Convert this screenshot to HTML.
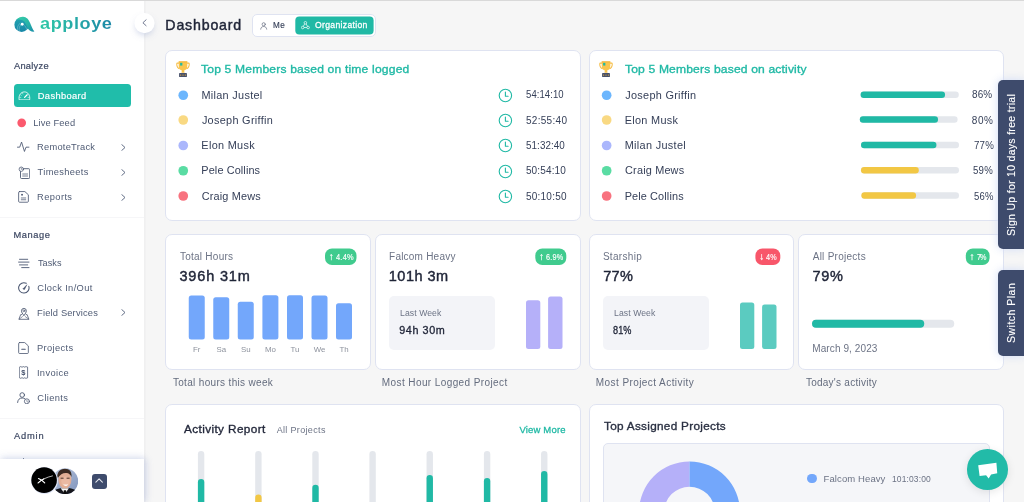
<!DOCTYPE html>
<html lang="en">
<head>
<meta charset="utf-8">
<title>Apploye Dashboard</title>
<style>
*{box-sizing:border-box;margin:0;padding:0}
html,body{width:1024px;height:502px;overflow:hidden}
body{position:relative;background:#f6f6f6;font-family:"Liberation Sans",sans-serif;color:#2f3b52}
#root{position:absolute;left:0;top:0;width:1024px;height:502px;overflow:hidden;will-change:transform}
.abs{position:absolute}
.t{position:absolute;white-space:nowrap;line-height:1}
#topline{left:0;top:0;width:1024px;height:1px;background:#d9d9d9}
/* sidebar */
#side{left:0;top:1px;width:145px;height:501px;background:#fff}
.sec{font-size:9.5px;color:#2f3b52;left:14px;letter-spacing:.2px}
.mi{font-size:9.5px;color:#4a5872;left:37px;letter-spacing:.25px}
.ico{position:absolute;left:17px;width:14px;height:14px}
.ico svg{display:block;width:14px;height:14px;fill:none;stroke:#3d4a66;stroke-width:1.1;stroke-linecap:round;stroke-linejoin:round}
.chev{position:absolute;left:120px;width:6px;height:8px}
.chev svg{display:block;fill:none;stroke:#4a5872;stroke-width:1;stroke-linecap:round;stroke-linejoin:round}
.sep{left:0;width:145px;height:1px;background:#f3f3f5}
/* cards */
.card{position:absolute;background:#fff;border:1px solid #dfe3f1;border-radius:7px}
.dot{position:absolute;width:9.8px;height:9.8px;border-radius:50%}
.nm{font-size:11px;color:#2f3b52;letter-spacing:.15px}
.tm{font-size:10.5px;color:#2f3b52}
.ttl{font-size:11.5px;color:#20b9a5;font-weight:bold}
.track{position:absolute;height:6.4px;border-radius:3.2px;background:#e4e7ec}
.fill{position:absolute;left:0;top:0;height:6.4px;border-radius:3.2px}
.pc{font-size:10.5px;color:#2f3b52}
.lab{font-size:9.5px;color:#6c7385;letter-spacing:.15px}
.big{font-size:15px;color:#1f2437;font-weight:bold}
.badge{position:absolute;height:15px;border-radius:5px;color:#fff;font-size:7.5px;font-weight:bold;text-align:center;line-height:15px;white-space:nowrap}
.cap{font-size:9.5px;color:#5d6577;letter-spacing:.2px}
.lw{position:absolute;background:#f3f4f8;border-radius:5px}
.bar{position:absolute;border-radius:2px}
.dl{font-size:7.9px;color:#8d929d}
.tab{position:absolute;left:998px;width:27px;background:#3e4b6c;border-radius:5px 0 0 5px;box-shadow:0 0 9px rgba(205,217,245,.9)}
.tab span{position:absolute;left:50%;top:50%;white-space:nowrap;color:#fff;font-size:10.5px;font-weight:bold;transform:translate(-50%,-50%) rotate(-90deg);letter-spacing:.1px}
</style>
</head>
<body>
<div id="root">
<div class="abs" style="left:252px;top:14px;width:124px;height:23px;background:#fff;border:1px solid #dfe3f1;border-radius:5px"></div>
<div class="card" style="left:165px;top:50px;width:416px;height:171px;"></div>
<div class="card" style="left:589px;top:50px;width:415px;height:171px;"></div>
<div class="card" style="left:165px;top:234px;width:205.5px;height:135.5px;"></div>
<div class="card" style="left:375px;top:234px;width:206px;height:135.5px;"></div>
<div class="card" style="left:589px;top:234px;width:205px;height:135.5px;"></div>
<div class="card" style="left:798px;top:234px;width:206px;height:135.5px;"></div>
<div class="lw" style="left:388.75px;top:296px;width:106.25px;height:53.75px;"></div>
<div class="lw" style="left:602.75px;top:296px;width:106.25px;height:53.75px;"></div>
<div class="card" style="left:165px;top:404px;width:416px;height:120px;"></div>
<div class="card" style="left:589px;top:404px;width:415px;height:120px;"></div>
<div class="abs" style="left:602.75px;top:443.25px;width:387px;height:80px;background:#f5f6f9;border:1px solid #dfe3f1;border-radius:5px"></div>
<svg class="abs" style="left:0;top:0" width="1024" height="502" viewBox="0 0 1024 502"><rect x="295.3" y="16.6" width="78.3" height="17.8" rx="4" fill="#20b9a5"/><circle cx="183.25" cy="95.25" r="4.85" fill="#6cb6fd"/><circle cx="183.25" cy="120" r="4.85" fill="#f9d983"/><circle cx="183.25" cy="145.5" r="4.85" fill="#abb7fc"/><circle cx="183.25" cy="170.75" r="4.85" fill="#5adca3"/><circle cx="183.25" cy="196" r="4.85" fill="#f8727f"/><circle cx="606.65" cy="95.25" r="4.85" fill="#6cb6fd"/><rect x="860.6" y="91.55" width="98.2" height="6.4" rx="3.2" fill="#e4e7ec"/><rect x="860.6" y="91.55" width="84.45" height="6.4" rx="3.2" fill="#20b9a5"/><circle cx="606.65" cy="120" r="4.85" fill="#f9d983"/><rect x="859.8" y="116.3" width="97.8" height="6.4" rx="3.2" fill="#e4e7ec"/><rect x="859.8" y="116.3" width="78.24" height="6.4" rx="3.2" fill="#20b9a5"/><circle cx="606.65" cy="145.5" r="4.85" fill="#abb7fc"/><rect x="861" y="141.8" width="98" height="6.4" rx="3.2" fill="#e4e7ec"/><rect x="861" y="141.8" width="75.46" height="6.4" rx="3.2" fill="#20b9a5"/><circle cx="606.65" cy="170.75" r="4.85" fill="#5adca3"/><rect x="861" y="167.05" width="98" height="6.4" rx="3.2" fill="#e4e7ec"/><rect x="861" y="167.05" width="57.82" height="6.4" rx="3.2" fill="#f2c744"/><circle cx="606.65" cy="196" r="4.85" fill="#f8727f"/><rect x="861.4" y="192.3" width="97.6" height="6.4" rx="3.2" fill="#e4e7ec"/><rect x="861.4" y="192.3" width="54.66" height="6.4" rx="3.2" fill="#f2c744"/><rect x="325" y="248.4" width="31.5" height="16.6" rx="7" fill="#40cb8e"/><rect x="188.75" y="295.5" width="16" height="44.1" rx="2.5" fill="#73a7fb"/><rect x="213.25" y="297.25" width="16" height="42.35" rx="2.5" fill="#73a7fb"/><rect x="237.75" y="301.75" width="16" height="37.85" rx="2.5" fill="#73a7fb"/><rect x="262.4" y="295.25" width="16" height="44.35" rx="2.5" fill="#73a7fb"/><rect x="287" y="295.25" width="16" height="44.35" rx="2.5" fill="#73a7fb"/><rect x="311.5" y="295.5" width="16" height="44.1" rx="2.5" fill="#73a7fb"/><rect x="336" y="303.25" width="16" height="36.35" rx="2.5" fill="#73a7fb"/><rect x="535.3" y="248.4" width="31" height="16.6" rx="7" fill="#40cb8e"/><rect x="526" y="300.25" width="14.3" height="48.8" rx="2.5" fill="#b5b0f9"/><rect x="548.1" y="296.5" width="14.4" height="52.5" rx="2.5" fill="#b5b0f9"/><rect x="755.4" y="248.4" width="24.9" height="16.6" rx="7" fill="#f8566a"/><rect x="740" y="302.5" width="14.3" height="46.5" rx="2.5" fill="#5bcbc0"/><rect x="762.1" y="304.5" width="14.4" height="44.5" rx="2.5" fill="#5bcbc0"/><rect x="965.8" y="248.4" width="23.8" height="16.6" rx="7" fill="#40cb8e"/><rect x="812" y="319.75" width="142.25" height="8" rx="4" fill="#e4e7ec"/><rect x="812" y="319.75" width="112.25" height="8" rx="4" fill="#20b9a5"/><rect x="197.9" y="451" width="6.4" height="60" rx="3.2" fill="#e4e7ec"/><rect x="197.9" y="479" width="6.4" height="40" rx="3.2" fill="#20b9a5"/><rect x="255.2" y="451" width="6.4" height="60" rx="3.2" fill="#e4e7ec"/><rect x="255.2" y="494.5" width="6.4" height="40" rx="3.2" fill="#f2c744"/><rect x="312.3" y="451" width="6.4" height="60" rx="3.2" fill="#e4e7ec"/><rect x="312.3" y="484.75" width="6.4" height="40" rx="3.2" fill="#20b9a5"/><rect x="369.4" y="451" width="6.4" height="60" rx="3.2" fill="#e4e7ec"/><rect x="426.55" y="451" width="6.4" height="60" rx="3.2" fill="#e4e7ec"/><rect x="426.55" y="475" width="6.4" height="40" rx="3.2" fill="#20b9a5"/><rect x="483.9" y="451" width="6.4" height="60" rx="3.2" fill="#e4e7ec"/><rect x="483.9" y="478" width="6.4" height="40" rx="3.2" fill="#20b9a5"/><rect x="541.05" y="451" width="6.4" height="60" rx="3.2" fill="#e4e7ec"/><rect x="541.05" y="471" width="6.4" height="40" rx="3.2" fill="#20b9a5"/></svg>
<div class="t" style="left:165.36px;top:18.10px;font-size:14.2px;color:#1f2437;-webkit-text-stroke:0.43px #1f2437;letter-spacing:0.81px;">Dashboard</div>
<svg class="abs" style="left:260px;top:21.5px" width="8" height="8" viewBox="0 0 8 8" fill="none" stroke="#6c7385" stroke-width=".75" stroke-linecap="round"><circle cx="3.7" cy="2.3" r="1.6"/><path d="M.7 7.2C.9 5.3 2.1 4.5 3.7 4.5S6.5 5.3 6.7 7.2"/></svg>
<div class="t" style="left:273.42px;top:21.15px;font-size:8.6px;color:#364059;-webkit-text-stroke:0.15px #364059;letter-spacing:0.48px;transform:scaleX(0.945);transform-origin:0 0;">Me</div>
<svg class="abs" style="left:301px;top:21.3px" width="9" height="8.5" viewBox="0 0 9 8.5" fill="none" stroke="#fff" stroke-width=".7"><circle cx="4.4" cy="1.8" r="1.3"/><circle cx="1.7" cy="6.5" r="1.3"/><circle cx="7.1" cy="6.5" r="1.3"/><path d="M3.7 2.9L2.3 5.3M5.1 2.9l1.4 2.4M3 6.5h2.8"/></svg>
<div class="t" style="left:315.09px;top:21.15px;font-size:8.6px;color:#fff;-webkit-text-stroke:0.26px #fff;letter-spacing:0.32px;">Organization</div>
<svg class="abs" style="left:175.6px;top:60.6px" width="14" height="16.600" viewBox="0 0 15 17" preserveAspectRatio="none"><path d="M3.2 2.2H1.6c-.5 0-.8.3-.8.8 0 2.6 1.2 4.4 3.2 4.9M11.8 2.2h1.6c.5 0 .8.3.8.8 0 2.6-1.2 4.4-3.2 4.9" fill="none" stroke="#f6bd45" stroke-width="1.1"/><path d="M2.9.4h9.2v4.8c0 2.6-1.5 4.2-3.4 4.6l.5 2.3H5.8l.5-2.3C4.400 9.400 2.900 7.800 2.900 5.200z" fill="#f9c54e"/><rect x="2.9" y=".4" width="9.200" height="1" fill="#f0b23a"/><rect x="4.4" y="1.9" width="2.4" height="2.8" fill="#20b9a5"/><rect x="3.3" y="12.3" width="8.400" height="4.100" rx=".4" fill="#47516b"/><path d="M5 14.400h.01M7.500 14.400h.01M10 14.400h.01" stroke="#f0b23a" stroke-width="1.300" stroke-linecap="round"/></svg>
<svg class="abs" style="left:599.2px;top:60.6px" width="14" height="16.600" viewBox="0 0 15 17" preserveAspectRatio="none"><path d="M3.2 2.2H1.6c-.5 0-.8.3-.8.8 0 2.6 1.2 4.4 3.2 4.9M11.8 2.2h1.6c.5 0 .8.3.8.8 0 2.6-1.2 4.4-3.2 4.9" fill="none" stroke="#f6bd45" stroke-width="1.1"/><path d="M2.9.4h9.2v4.8c0 2.6-1.5 4.2-3.4 4.6l.5 2.3H5.8l.5-2.3C4.400 9.400 2.900 7.800 2.900 5.200z" fill="#f9c54e"/><rect x="2.9" y=".4" width="9.200" height="1" fill="#f0b23a"/><rect x="4.4" y="1.9" width="2.4" height="2.8" fill="#20b9a5"/><rect x="3.3" y="12.3" width="8.400" height="4.100" rx=".4" fill="#47516b"/><path d="M5 14.400h.01M7.500 14.400h.01M10 14.400h.01" stroke="#f0b23a" stroke-width="1.300" stroke-linecap="round"/></svg>
<div class="t" style="left:200.53px;top:64.00px;font-size:11.3px;color:#20b9a5;-webkit-text-stroke:0.34px #20b9a5;letter-spacing:0.17px;transform:scaleX(1.07);transform-origin:0 0;">Top 5 Members based on time logged</div>
<div class="t" style="left:624.63px;top:64.00px;font-size:11.3px;color:#20b9a5;-webkit-text-stroke:0.34px #20b9a5;letter-spacing:0.15px;transform:scaleX(1.07);transform-origin:0 0;">Top 5 Members based on activity</div>
<div class="t" style="left:201.45px;top:89.50px;font-size:10.9px;color:#364059;letter-spacing:0.3px;">Milan Justel</div>
<svg class="abs" style="left:498px;top:88.05px" width="15" height="15" viewBox="0 0 15 15" fill="none" stroke="#20b9a5" stroke-width="1.1" stroke-linecap="round" stroke-linejoin="round"><circle cx="7.4" cy="7.500" r="6.200"/><path d="M7.400 4v4.200h2.700"/></svg>
<div class="t" style="left:525.93px;top:90.40px;font-size:10px;color:#364059;letter-spacing:0.08px;transform:scaleX(0.953);transform-origin:0 0;">54:14:10</div>
<div class="t" style="left:201.89px;top:114.60px;font-size:10.9px;color:#364059;letter-spacing:0.3px;">Joseph Griffin</div>
<svg class="abs" style="left:498px;top:112.8px" width="15" height="15" viewBox="0 0 15 15" fill="none" stroke="#20b9a5" stroke-width="1.1" stroke-linecap="round" stroke-linejoin="round"><circle cx="7.4" cy="7.500" r="6.200"/><path d="M7.400 4v4.200h2.700"/></svg>
<div class="t" style="left:525.93px;top:115.50px;font-size:10px;color:#364059;letter-spacing:0.3px;">52:55:40</div>
<div class="t" style="left:201.33px;top:140.00px;font-size:10.9px;color:#364059;letter-spacing:0.31px;">Elon Musk</div>
<svg class="abs" style="left:498px;top:138.3px" width="15" height="15" viewBox="0 0 15 15" fill="none" stroke="#20b9a5" stroke-width="1.1" stroke-linecap="round" stroke-linejoin="round"><circle cx="7.4" cy="7.500" r="6.200"/><path d="M7.400 4v4.200h2.700"/></svg>
<div class="t" style="left:525.83px;top:140.90px;font-size:10px;color:#364059;letter-spacing:0.07px;transform:scaleX(0.984);transform-origin:0 0;">51:32:40</div>
<div class="t" style="left:201.33px;top:165.40px;font-size:10.9px;color:#364059;letter-spacing:0.11px;">Pele Collins</div>
<svg class="abs" style="left:498px;top:163.55px" width="15" height="15" viewBox="0 0 15 15" fill="none" stroke="#20b9a5" stroke-width="1.1" stroke-linecap="round" stroke-linejoin="round"><circle cx="7.4" cy="7.500" r="6.200"/><path d="M7.400 4v4.200h2.700"/></svg>
<div class="t" style="left:525.93px;top:166.30px;font-size:10px;color:#364059;letter-spacing:0.14px;">50:54:10</div>
<div class="t" style="left:201.68px;top:190.70px;font-size:10.9px;color:#364059;letter-spacing:0.18px;">Craig Mews</div>
<svg class="abs" style="left:498px;top:188.8px" width="15" height="15" viewBox="0 0 15 15" fill="none" stroke="#20b9a5" stroke-width="1.1" stroke-linecap="round" stroke-linejoin="round"><circle cx="7.4" cy="7.500" r="6.200"/><path d="M7.400 4v4.200h2.700"/></svg>
<div class="t" style="left:525.93px;top:191.60px;font-size:10px;color:#364059;letter-spacing:0.24px;">50:10:50</div>
<div class="t" style="left:625.32px;top:89.50px;font-size:10.9px;color:#364059;letter-spacing:0.28px;">Joseph Griffin</div>
<div class="t" style="left:972.49px;top:90.40px;font-size:10px;color:#364059;letter-spacing:0.13px;transform:scaleX(0.994);transform-origin:0 0;">86%</div>
<div class="t" style="left:624.65px;top:114.60px;font-size:10.9px;color:#364059;letter-spacing:0.31px;">Elon Musk</div>
<div class="t" style="left:971.79px;top:115.50px;font-size:10px;color:#364059;letter-spacing:0.61px;">80%</div>
<div class="t" style="left:624.68px;top:140.00px;font-size:10.9px;color:#364059;letter-spacing:0.32px;">Milan Justel</div>
<div class="t" style="left:973.56px;top:140.90px;font-size:10px;color:#364059;letter-spacing:0.18px;transform:scaleX(0.974);transform-origin:0 0;">77%</div>
<div class="t" style="left:625.09px;top:165.40px;font-size:10.9px;color:#364059;letter-spacing:0.17px;">Craig Mews</div>
<div class="t" style="left:973.47px;top:166.30px;font-size:10px;color:#364059;letter-spacing:0.26px;transform:scaleX(0.964);transform-origin:0 0;">59%</div>
<div class="t" style="left:624.65px;top:190.70px;font-size:10.9px;color:#364059;letter-spacing:0.13px;">Pele Collins</div>
<div class="t" style="left:973.51px;top:191.60px;font-size:10px;color:#364059;letter-spacing:0.27px;transform:scaleX(0.949);transform-origin:0 0;">56%</div>
<div class="t" style="left:179.88px;top:252.25px;font-size:10px;color:#6c7385;letter-spacing:0.26px;">Total Hours</div>
<div class="t" style="left:179.48px;top:269.25px;font-size:14.5px;color:#1f2437;-webkit-text-stroke:0.43px #1f2437;letter-spacing:0.83px;">396h 31m</div>
<div class="t" style="left:328.80px;top:252.30px;font-size:10px;color:#fff;-webkit-text-stroke:0.20px #fff;">↑</div>

<div class="t" style="left:335.50px;top:252.70px;font-size:8.6px;color:#fff;-webkit-text-stroke:0.15px #fff;letter-spacing:0.27px;transform:scaleX(0.863);transform-origin:0 0;">4.4%</div>
<div class="t dl" style="left:181.75px;top:345.9px;width:30px;text-align:center">Fr</div>
<div class="t dl" style="left:206.25px;top:345.9px;width:30px;text-align:center">Sa</div>
<div class="t dl" style="left:230.75px;top:345.9px;width:30px;text-align:center">Su</div>
<div class="t dl" style="left:255.39999999999998px;top:345.9px;width:30px;text-align:center">Mo</div>
<div class="t dl" style="left:280px;top:345.9px;width:30px;text-align:center">Tu</div>
<div class="t dl" style="left:304.5px;top:345.9px;width:30px;text-align:center">We</div>
<div class="t dl" style="left:329px;top:345.9px;width:30px;text-align:center">Th</div>
<div class="t" style="left:172.88px;top:378.25px;font-size:10px;color:#646c7e;letter-spacing:0.33px;">Total hours this week</div>
<div class="t" style="left:389.07px;top:252.25px;font-size:10px;color:#6c7385;letter-spacing:0.22px;">Falcom Heavy</div>
<div class="t" style="left:388.83px;top:269.25px;font-size:14.5px;color:#1f2437;-webkit-text-stroke:0.43px #1f2437;letter-spacing:0.48px;">101h 3m</div>
<div class="t" style="left:539.10px;top:252.30px;font-size:10px;color:#fff;-webkit-text-stroke:0.20px #fff;">↑</div>

<div class="t" style="left:545.90px;top:252.70px;font-size:8.6px;color:#fff;-webkit-text-stroke:0.15px #fff;letter-spacing:0.28px;transform:scaleX(0.847);transform-origin:0 0;">6.9%</div>
<div class="t" style="left:399.51px;top:309.25px;font-size:8.8px;color:#6c7385;letter-spacing:0.07px;transform:scaleX(0.985);transform-origin:0 0;">Last Week</div>
<div class="t" style="left:399.26px;top:325.00px;font-size:10.8px;color:#1f2437;-webkit-text-stroke:0.32px #1f2437;letter-spacing:0.59px;">94h 30m</div>
<div class="t" style="left:381.86px;top:378.25px;font-size:10px;color:#646c7e;letter-spacing:0.4px;">Most Hour Logged Project</div>
<div class="t" style="left:602.88px;top:252.25px;font-size:10px;color:#6c7385;letter-spacing:0.33px;">Starship</div>
<div class="t" style="left:603.19px;top:269.25px;font-size:14.5px;color:#1f2437;-webkit-text-stroke:0.43px #1f2437;letter-spacing:0.29px;">77%</div>
<div class="t" style="left:759.20px;top:252.30px;font-size:10px;color:#fff;-webkit-text-stroke:0.20px #fff;">↓</div>

<div class="t" style="left:765.90px;top:252.70px;font-size:8.6px;color:#fff;-webkit-text-stroke:0.15px #fff;letter-spacing:0.2px;transform:scaleX(0.84);transform-origin:0 0;">4%</div>
<div class="t" style="left:613.51px;top:309.25px;font-size:8.8px;color:#6c7385;letter-spacing:0.07px;transform:scaleX(0.985);transform-origin:0 0;">Last Week</div>
<div class="t" style="left:613.31px;top:325.00px;font-size:10.8px;color:#1f2437;-webkit-text-stroke:0.32px #1f2437;letter-spacing:0.06px;transform:scaleX(0.846);transform-origin:0 0;">81%</div>
<div class="t" style="left:595.86px;top:378.25px;font-size:10px;color:#646c7e;letter-spacing:0.42px;">Most Project Activity</div>
<div class="t" style="left:812.69px;top:252.25px;font-size:10px;color:#6c7385;letter-spacing:0.27px;">All Projects</div>
<div class="t" style="left:812.50px;top:269.25px;font-size:14.5px;color:#1f2437;-webkit-text-stroke:0.43px #1f2437;letter-spacing:0.64px;">79%</div>
<div class="t" style="left:969.60px;top:252.30px;font-size:10px;color:#fff;-webkit-text-stroke:0.20px #fff;">↑</div>

<div class="t" style="left:976.80px;top:252.70px;font-size:8.6px;color:#fff;-webkit-text-stroke:0.15px #fff;letter-spacing:-1.11px;transform:scaleX(0.84);transform-origin:0 0;">7%</div>
<div class="t" style="left:812.29px;top:344.00px;font-size:10px;color:#6c7385;letter-spacing:0.1px;">March 9, 2023</div>
<div class="t" style="left:805.88px;top:378.25px;font-size:10px;color:#646c7e;letter-spacing:0.26px;">Today&#x27;s activity</div>
<div class="t" style="left:183.60px;top:424.25px;font-size:11.1px;color:#1f2437;-webkit-text-stroke:0.33px #1f2437;letter-spacing:0.37px;transform:scaleX(1.06);transform-origin:0 0;">Activity Report</div>
<div class="t" style="left:276.63px;top:426.00px;font-size:9px;color:#6c7385;letter-spacing:0.34px;">All Projects</div>
<div class="t" style="left:519.41px;top:424.60px;font-size:9.5px;color:#20b9a5;-webkit-text-stroke:0.28px #20b9a5;letter-spacing:0.18px;">View More</div>
<div class="t" style="left:603.78px;top:420.75px;font-size:11.1px;color:#2a3042;-webkit-text-stroke:0.33px #2a3042;letter-spacing:0.28px;transform:scaleX(1.06);transform-origin:0 0;">Top Assigned Projects</div>
<svg class="abs" style="left:638px;top:460px" width="104" height="60" viewBox="638 460 104 60"><path d="M689.5 461.500A50.500 50.500 0 0 0 639 512h25.200A25.300 25.300 0 0 1 689.500 486.700z" fill="#b5b0f9"/><path d="M689.500 461.500A50.500 50.500 0 0 1 740 512h-25.200A25.300 25.300 0 0 0 689.500 486.700z" fill="#73a7fb"/></svg>
<div class="dot" style="left:807px;top:473.500px;width:9.500px;height:9.500px;background:#73a7fb"></div>
<div class="t" style="left:823.57px;top:473.60px;font-size:9.5px;color:#6c7385;letter-spacing:0.1px;">Falcom Heavy</div>
<div class="t" style="left:892.32px;top:473.60px;font-size:9.5px;color:#6c7385;letter-spacing:0.13px;transform:scaleX(0.894);transform-origin:0 0;">101:03:00</div>
<div class="abs" style="left:0px;top:1px;width:144px;height:501px;background:#fff"></div>
<div class="abs" style="left:144px;top:1px;width:2px;height:501px;background:linear-gradient(90deg,#efeff0,#f3f3f3)"></div>
<svg class="abs" style="left:14px;top:16px" width="21" height="17" viewBox="0 0 21 17"><defs><linearGradient id="lg1" x1="0" y1="0" x2="0" y2="1"><stop offset="0" stop-color="#22a5b0"/><stop offset="1" stop-color="#1787a8"/></linearGradient><linearGradient id="lg2" x1="0" y1="0" x2="1" y2="1"><stop offset="0" stop-color="#38d1a8"/><stop offset=".55" stop-color="#27b3a8"/><stop offset="1" stop-color="#1a8fa9"/></linearGradient></defs><circle cx="7.700" cy="8.700" r="7.300" fill="url(#lg1)"/><path d="M2.300 3.800C4.200 1.500 6.800.600 9.100.700c3.500.200 5.500 2.700 7 6.200 1.300 3 2.400 6.400 4.300 8.700-2.900.300-5.200-.800-6.700-3.300-1.200-2.100-1.900-4.900-3.400-6.700C8.600 3.600 5.300 2.900 2.300 3.800z" fill="url(#lg2)"/><circle cx="8.200" cy="8.200" r="1.450" fill="#fff"/><path d="M3.500 13.500C3.200 11 4 8.700 6 7.300M10.400 9.500c1.200 1.100 1.900 2.400 2.300 3.900M5.300 14.800c-.5-2.200 0-4.200 1.300-5.600" fill="none" stroke="#fff" stroke-width=".45" stroke-linecap="round" opacity=".55"/></svg>
<div class="t" style="left:39.88px;top:16.20px;font-size:16.8px;color:#2ab3a7;font-weight:bold;letter-spacing:0.52px;transform:scaleX(1.08);transform-origin:0 0;background:linear-gradient(90deg,#2fc9a6,#1c88a8);-webkit-background-clip:text;background-clip:text;-webkit-text-fill-color:transparent;color:transparent;padding-bottom:4px;">apploye</div>
<div class="t" style="left:13.99px;top:61.90px;font-size:9.3px;color:#3d4863;letter-spacing:0.25px;-webkit-text-stroke:.2px #3d4863;">Analyze</div>
<div class="abs" style="left:14px;top:84.1px;width:117px;height:23px;background:#20bdaa;border-radius:3.500px"></div>
<svg class="abs" style="left:17.700px;top:90.900px" width="13" height="9.500" viewBox="0 0 13 9.500" fill="none" stroke="#fff" stroke-linecap="round" stroke-linejoin="round"><path d="M1.100 8.500C.400 4.300 2.900.900 6.400.900s6 3.400 5.300 7.600z" stroke-width=".9" stroke-opacity=".92"/><path d="M6.600 6.400l2.600-2.600" stroke-width="1.250"/><path d="M2 6.400h.8M2.700 4l.6.400M4.600 2.400l.3.600M10 6.400h.8" stroke-width=".6" stroke-opacity=".8"/></svg>
<div class="t" style="left:37.74px;top:91.70px;font-size:9.3px;color:#fff;-webkit-text-stroke:0.18px #fff;letter-spacing:0.38px;">Dashboard</div>
<svg class="abs" style="left:16px;top:117px" width="12" height="12" viewBox="16 117 12 12"><circle cx="21.700" cy="122.800" r="4.350" fill="#fb5a6e"/></svg>
<div class="t" style="left:33.15px;top:118.70px;font-size:9.3px;color:#4f5b74;letter-spacing:0.14px;">Live Feed</div>
<svg class="abs" style="left:17.400px;top:140.700px" width="12.600" height="11.500" viewBox="0 0 13 11.500" fill="none" stroke="#4a5670" stroke-width=".88" stroke-linecap="round" stroke-linejoin="round"><path d="M.500 6.200h2.300L4.700.900l3 9.700 1.600-4.400h3"/></svg>
<div class="t" style="left:37.07px;top:143.40px;font-size:9.3px;color:#4f5b74;letter-spacing:0.25px;">RemoteTrack</div>
<svg class="abs" style="left:121px;top:144.1px" width="5" height="7" viewBox="0 0 5 7" fill="none" stroke="#5a6680" stroke-width=".95" stroke-linecap="round" stroke-linejoin="round"><path d="M.8.600L4 3.500.800 6.400"/></svg>
<svg class="abs" style="left:17.500px;top:166px" width="12.500" height="13" viewBox="0 0 12.500 13" fill="none" stroke="#4a5670" stroke-width=".88" stroke-linecap="round" stroke-linejoin="round"><path d="M5.700 2.700h5.100c.5 0 .9.400.9.900v8c0 .5-.4.900-.9.900H3.400c-.5 0-.9-.4-.9-.9V5.600"/><circle cx="3.300" cy="3.200" r="2.200" stroke-width=".75"/><path d="M3.300 2.100v1.200h.9" stroke-width=".6"/><path d="M4.700 8h4.900M4.700 10h4.900" stroke-width=".75"/></svg>
<div class="t" style="left:37.57px;top:168.40px;font-size:9.3px;color:#4f5b74;letter-spacing:0.35px;">Timesheets</div>
<svg class="abs" style="left:121px;top:168.9px" width="5" height="7" viewBox="0 0 5 7" fill="none" stroke="#5a6680" stroke-width=".95" stroke-linecap="round" stroke-linejoin="round"><path d="M.8.600L4 3.500.800 6.400"/></svg>
<svg class="abs" style="left:18.200px;top:191.100px" width="11" height="11.800" viewBox="0 0 11.500 12.500" fill="none" stroke="#4a5670" stroke-width=".88" stroke-linecap="round" stroke-linejoin="round"><path d="M1.500.600h5.700L10.900 4v7c0 .5-.4.900-.9.900H1.500c-.5 0-.9-.4-.9-.9V1.500c0-.5.400-.9.900-.9z"/><path d="M3.400 7.400h4.700M3.400 9.300h4.700" stroke-width=".8"/><rect x="3.300" y="3.100" width="1.800" height="1.700" fill="#4a5670" stroke="none"/></svg>
<div class="t" style="left:37.07px;top:193.10px;font-size:9.3px;color:#4f5b74;letter-spacing:0.4px;">Reports</div>
<svg class="abs" style="left:121px;top:193.8px" width="5" height="7" viewBox="0 0 5 7" fill="none" stroke="#5a6680" stroke-width=".95" stroke-linecap="round" stroke-linejoin="round"><path d="M.8.600L4 3.500.800 6.400"/></svg>
<div class="abs" style="left:0px;top:217px;width:144px;height:1px;background:#f6f6f8"></div>
<div class="t" style="left:13.56px;top:231.00px;font-size:9.3px;color:#3d4863;letter-spacing:0.58px;-webkit-text-stroke:.2px #3d4863;">Manage</div>
<svg class="abs" style="left:18px;top:257.500px" width="12" height="11" viewBox="0 0 12 11" fill="none" stroke="#55617a" stroke-width=".95" stroke-linecap="round"><path d="M1.500 1.300h8.200M.600 4.100h10.400M1.500 6.900h8.200M3.700 9.600h7.300"/></svg>
<div class="t" style="left:37.74px;top:258.80px;font-size:9.3px;color:#4f5b74;letter-spacing:0.02px;transform:scaleX(0.985);transform-origin:0 0;">Tasks</div>
<svg class="abs" style="left:17.500px;top:281.700px" width="12" height="12" viewBox="0 0 12 12" fill="none" stroke="#4a5670" stroke-width=".88" stroke-linecap="round" stroke-linejoin="round"><path d="M8.300 1.300A5.200 5.200 0 1 0 10.800 4.300" stroke-width="1.050"/><path d="M5.300 6.600l3.600-3.900-2.400 4.700a.8.800 0 0 1-1.200-.8z" fill="#46526c" stroke-width=".5"/></svg>
<div class="t" style="left:37.33px;top:283.60px;font-size:9.3px;color:#4f5b74;letter-spacing:0.34px;">Clock In/Out</div>
<svg class="abs" style="left:18px;top:306.700px" width="12" height="13" viewBox="0 0 12 13" fill="none" stroke="#4a5670" stroke-width=".88" stroke-linecap="round" stroke-linejoin="round"><path d="M5.900 8.300C4.300 6.700 3.500 5.200 3.500 3.800a2.400 2.400 0 0 1 4.800 0c0 1.400-.8 2.900-2.400 4.500z"/><circle cx="5.900" cy="3.800" r=".95" stroke-width=".7"/><path d="M3.700 7.600H2.700L.9 12.300h10L9.100 7.600H8.100" stroke-width=".8"/><path d="M1.200 12.100l3.300-2.500M10.600 12.100L7.300 9.600" stroke-width=".6"/></svg>
<div class="t" style="left:37.07px;top:309.00px;font-size:9.3px;color:#4f5b74;letter-spacing:0.18px;">Field Services</div>
<svg class="abs" style="left:121px;top:309.2px" width="5" height="7" viewBox="0 0 5 7" fill="none" stroke="#5a6680" stroke-width=".95" stroke-linecap="round" stroke-linejoin="round"><path d="M.8.600L4 3.500.800 6.400"/></svg>
<svg class="abs" style="left:17.800px;top:341.900px" width="11.200" height="12.100" viewBox="0 0 12 13" fill="none" stroke="#4a5670" stroke-width=".88" stroke-linecap="round" stroke-linejoin="round"><path d="M1.700.600h5.500l3.900 3.600v7.200c0 .6-.4 1-1 1H1.700c-.6 0-1-.4-1-1V1.600c0-.6.400-1 1-1z"/><path d="M4 7.700h3.800" stroke-width="1.100"/></svg>
<div class="t" style="left:37.07px;top:343.90px;font-size:9.3px;color:#4f5b74;letter-spacing:0.35px;">Projects</div>
<svg class="abs" style="left:18.500px;top:366.300px" width="10" height="13" viewBox="0 0 10 13" fill="none" stroke="#4a5670" stroke-width=".88" stroke-linecap="round" stroke-linejoin="round"><path d="M.600 1.100l.800-.5.800.5.800-.5.800.5.800-.5.800.5.800-.5.800.5.800-.5.800.5v10.700l-.8.500-.8-.5-.8.500-.8-.5-.8.500-.8-.5-.8.500-.8-.5-.8.500-.8-.5z" stroke-width=".8"/></svg>
<div class="t" style="left:21.200px;top:368.700px;font-size:7.500px;font-weight:bold;color:#46526c">$</div>
<div class="t" style="left:36.90px;top:368.90px;font-size:9.3px;color:#4f5b74;letter-spacing:0.39px;">Invoice</div>
<svg class="abs" style="left:17.200px;top:391.600px" width="13.500" height="12.500" viewBox="0 0 13.500 12.500" fill="none" stroke="#4a5670" stroke-width=".88" stroke-linecap="round" stroke-linejoin="round"><circle cx="5.200" cy="3" r="2.300"/><path d="M.600 10.500C.800 7.500 2.600 6 5.200 6c1.100 0 2 .3 2.800.8"/><circle cx="9.900" cy="9.300" r="2.500" stroke-width=".8"/><path d="M9.900 8.300v1.300l.8.500" stroke-width=".6"/></svg>
<div class="t" style="left:37.33px;top:393.70px;font-size:9.3px;color:#4f5b74;letter-spacing:0.34px;">Clients</div>
<div class="abs" style="left:0px;top:418px;width:144px;height:1px;background:#f6f6f8"></div>
<div class="t" style="left:13.99px;top:431.50px;font-size:9.3px;color:#3d4863;letter-spacing:0.82px;-webkit-text-stroke:.2px #3d4863;">Admin</div>
<div class="abs" style="left:22.8px;top:457.8px;width:1.4px;height:1.8px;background:#46526c;border-radius:50%"></div>
<div class="abs" style="left:0px;top:459.2px;width:144.3px;height:43px;background:#fff;box-shadow:0 -2px 7px rgba(150,165,210,.26),3px 0 6px rgba(150,165,210,.22)"></div>
<svg class="abs" style="left:51.900px;top:467.500px" width="26.400" height="26.400" viewBox="0 0 26.400 26.400"><defs><clipPath id="cpa"><circle cx="13.200" cy="13.200" r="13"/></clipPath><filter id="bla" x="-10%" y="-10%" width="120%" height="120%"><feGaussianBlur stdDeviation=".55"/></filter><linearGradient id="bga" x1="0" y1="0" x2="1" y2="1"><stop offset="0" stop-color="#b9c6de"/><stop offset="1" stop-color="#7f93bb"/></linearGradient></defs><g clip-path="url(#cpa)"><rect width="26.400" height="26.400" fill="url(#bga)"/><g filter="url(#bla)"><path d="M-1 27V23.500C3 21.500 7 20.500 9 20h8c3 .700 6 1.800 9.500 3.500V27z" fill="#17181d"/><path d="M8.600 20.300l4.300 5.500 4-5.500z" fill="#f4f4f4"/><path d="M11.900 22.300h2.100l.700 4h-3.500z" fill="#111"/><ellipse cx="12.900" cy="11.800" rx="6.500" ry="8.700" fill="#e2ae95"/><ellipse cx="13.600" cy="13.500" rx="4.300" ry="5" fill="#eab9a2"/><path d="M5.400 10.500C4.600 4.500 8 .800 12.800.800c4.700 0 7.300 2.800 6.700 8.200-1-2.300-2.600-3.700-5-3.900-3.300-.300-6.200 1-9.100 5.400z" fill="#3a2a20"/><path d="M11.200 16.100c1.600.700 3.300.700 4.900-.100-.500 1.500-1.300 2.100-2.400 2.100s-2-.700-2.500-2z" fill="#fbf3ee"/><path d="M9 10.200h2.200M15 10.200h2.200" stroke="#4a3429" stroke-width="1" stroke-linecap="round"/></g></g></svg>
<div class="abs" style="left:30.5px;top:467px;width:27px;height:27px;border-radius:50%;background:#dfe5f6"></div>
<svg class="abs" style="left:30.900px;top:467.400px" width="26.200" height="26.200" viewBox="0 0 26.200 26.200"><circle cx="13.100" cy="13.100" r="12.800" fill="#000"/><g fill="none" stroke="#fff" stroke-linecap="round"><path d="M7.200 15.800C11 12.600 15 10.400 21.500 8.900" stroke-width=".7"/><path d="M7.500 11.600c2.400 1 4.400 2.400 6.200 4.200" stroke-width="1.150"/><path d="M7.100 15.900c1.800-1.700 3.700-3 5.900-4.100" stroke-width="1.100"/></g></svg>
<div class="abs" style="left:91.8px;top:473.9px;width:15px;height:14.8px;background:#3e4b6c;border-radius:3px"><svg style="position:absolute;left:3.300px;top:4.300px" width="8.400" height="5.100" viewBox="0 0 9 5.500" fill="none" stroke="#e6e9f0" stroke-width="1.150" stroke-linecap="round" stroke-linejoin="round"><path d="M.900 4.500L4.400 1l3.500 3.500"/></svg></div>
<svg class="abs" style="left:124px;top:3px;overflow:visible" width="42" height="46" viewBox="124 3 42 46"><defs><filter id="cbs" x="-60%" y="-60%" width="220%" height="240%"><feGaussianBlur stdDeviation="3"/></filter></defs><circle cx="144.500" cy="26.500" r="9" fill="#7f90c0" fill-opacity=".34" filter="url(#cbs)"/><circle cx="144.500" cy="23.100" r="10.100" fill="#fff"/><path d="M146.100 19.800l-3.200 2.950 3.200 2.950" fill="none" stroke="#69728a" stroke-width=".95" stroke-linecap="round" stroke-linejoin="round"/></svg>
<div class="tab" style="top:80.400px;height:168.700px"></div>
<div class="tab" style="top:269.800px;height:86.300px"></div>
<div class="t" style="left:1015.20px;top:226.90px;font-size:10.5px;color:#fff;-webkit-text-stroke:0.12px #fff;letter-spacing:0.3px;transform:rotate(-90deg);transform-origin:0 9.00px;">Sign Up for 10 days free trial</div>
<div class="t" style="left:1015.30px;top:333.90px;font-size:10.5px;color:#fff;-webkit-text-stroke:0.12px #fff;letter-spacing:0.49px;transform:rotate(-90deg);transform-origin:0 9.00px;">Switch Plan</div>
<div class="abs" style="left:967.3px;top:449px;width:40.7px;height:40.7px;background:#22bba8;border-radius:50%;box-shadow:0 2px 8px rgba(0,0,0,.10)"><svg style="position:absolute;left:9.500px;top:12.500px" width="22" height="17" viewBox="0 0 22 17"><path d="M1.200 3.300L19.400.750l.850 10.450-6.150 1.200-2.450 4.100-2.550-3.300-6.500.900z" fill="#fff"/></svg></div>
<div class="abs" id="topline"></div>
</div>
</body>
</html>
